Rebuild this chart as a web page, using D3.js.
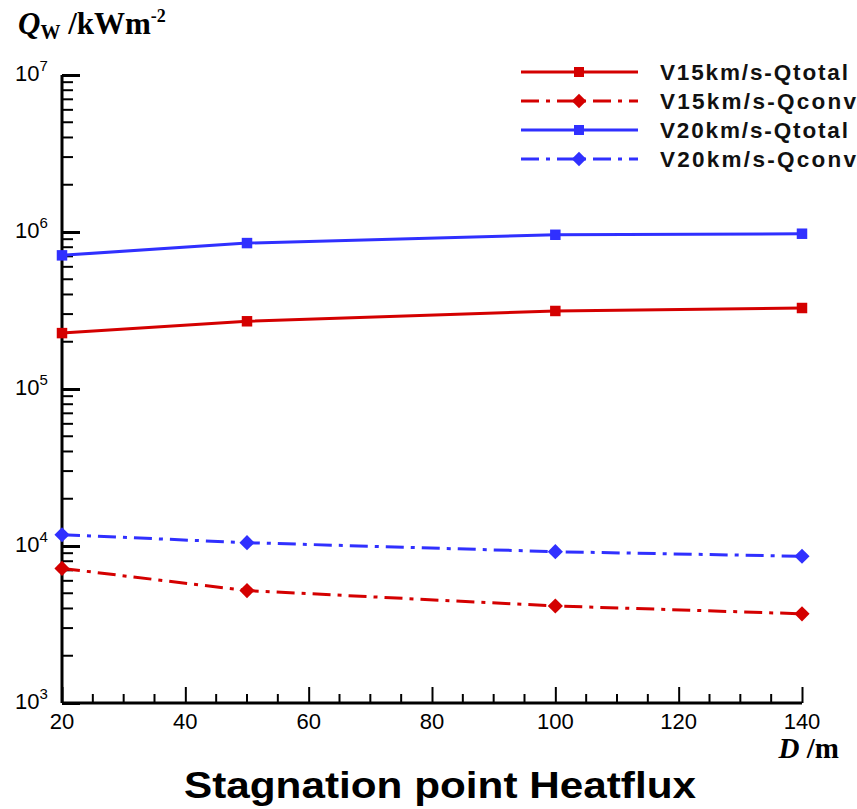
<!DOCTYPE html>
<html>
<head>
<meta charset="utf-8">
<script src="https://cdn.jsdelivr.net/npm/d3@7"></script>
<style>
  body { margin: 0; background: #fff; }
</style>
</head>
<body>
<div id="chart"></div>
<script>
// chart data
var distances = [20, 50, 100, 140];
var v15Total = [2.27e5, 2.7e5, 3.14e5, 3.28e5];
var v15Conv = [7.2e3, 5.2e3, 4.15e3, 3.7e3];
var v20Total = [7.1e5, 8.5e5, 9.6e5, 9.75e5];
var v20Conv = [1.18e4, 1.05e4, 9.2e3, 8.6e3];
var seriesNames = ["V15km/s-Qtotal", "V15km/s-Qconv", "V20km/s-Qtotal", "V20km/s-Qconv"];
var xTicks = [20, 40, 60, 80, 100, 120, 140];
var yExponents = [3, 4, 5, 6, 7];

var sans = "'Liberation Sans', Arial, sans-serif";
var serif = "'Liberation Serif', 'Times New Roman', serif";

var svgWidth = 857, svgHeight = 809;
var margin = { top: 75, left: 62, right: 55, bottom: 106 };
var width = svgWidth - margin.left - margin.right;
var height = svgHeight - margin.top - margin.bottom;

var red = "#d40000", blue = "#3030ff";
var dashDot = "18,7,4,7";
var series = [
  { name: seriesNames[0], values: v15Total, color: red, dash: null, marker: "square" },
  { name: seriesNames[1], values: v15Conv, color: red, dash: dashDot, marker: "diamond" },
  { name: seriesNames[2], values: v20Total, color: blue, dash: null, marker: "square" },
  { name: seriesNames[3], values: v20Conv, color: blue, dash: dashDot, marker: "diamond" }
];

var svg = d3.select("#chart").append("svg")
  .attr("width", svgWidth)
  .attr("height", svgHeight);

var chartGroup = svg.append("g")
  .attr("transform", `translate(${margin.left}, ${margin.top})`);

var xScale = d3.scaleLinear().domain([20, 140]).range([0, width]);
var yScale = d3.scaleLog().domain([1e3, 1e7]).range([height, 0]);

// minor ticks
var xMinor = d3.range(20, 141, 5).filter(d => d % 20 !== 0);
var yMinor = [];
yExponents.slice(0, -1).forEach(function (e) {
  for (var k = 2; k <= 9; k++) yMinor.push(k * Math.pow(10, e));
});

// x axis (ticks pointing inward)
var xAxis = chartGroup.append("g")
  .attr("transform", `translate(0, ${height})`)
  .call(d3.axisBottom(xScale).tickValues(xTicks).tickSize(-16).tickFormat(""));
xAxis.selectAll("line.minor").data(xMinor).enter().append("line")
  .attr("class", "minor")
  .attr("x1", d => xScale(d)).attr("x2", d => xScale(d))
  .attr("y1", 0).attr("y2", -9);
xAxis.select(".domain").attr("stroke-width", 3).attr("d", `M0,0H${width}`);
xAxis.selectAll("line").attr("stroke", "#000").attr("stroke-width", 2);

xAxis.selectAll("text.lbl").data(xTicks).enter().append("text")
  .attr("class", "lbl")
  .attr("x", d => xScale(d))
  .attr("y", 26)
  .attr("text-anchor", "middle")
  .style("font-family", sans)
  .style("font-size", "22px")
  .attr("fill", "#000")
  .text(d => d);

// y axis (ticks pointing inward)
var yAxis = chartGroup.append("g")
  .call(d3.axisLeft(yScale).tickValues(yExponents.map(e => Math.pow(10, e))).tickSize(-18).tickFormat(""));
yAxis.selectAll("line.minor").data(yMinor).enter().append("line")
  .attr("class", "minor")
  .attr("x1", 0).attr("x2", 11)
  .attr("y1", d => yScale(d)).attr("y2", d => yScale(d));
yAxis.select(".domain").attr("stroke-width", 3).attr("d", `M0,0V${height}`);
yAxis.selectAll("line").attr("stroke", "#000").attr("stroke-width", 2);
yAxis.selectAll(".tick line").attr("stroke-width", 3);

// y tick labels 10^n
yExponents.forEach(function (e) {
  var t = chartGroup.append("text")
    .attr("x", -47)
    .attr("y", yScale(Math.pow(10, e)) + 6)
    .style("font-family", sans)
    .style("font-size", "22px")
    .attr("fill", "#000");
  t.append("tspan").text("10");
  t.append("tspan").attr("dy", -10).style("font-size", "15px").text(e);
});

// markers: squares and 45-degree diamonds
function marker(kind, size) {
  return d3.symbol().type(d3.symbolSquare).size(size)();
}
function markerRotate(kind) {
  return kind === "diamond" ? " rotate(45)" : "";
}

// lines and markers
var line = d3.line()
  .x((d, i) => xScale(distances[i]))
  .y(d => yScale(d));

series.forEach(function (s) {
  chartGroup.append("path")
    .datum(s.values)
    .attr("d", line)
    .attr("fill", "none")
    .attr("stroke", s.color)
    .attr("stroke-width", 3)
    .attr("stroke-dasharray", s.dash);

  var size = s.marker === "square" ? 110 : 115;
  chartGroup.selectAll(null)
    .data(s.values)
    .enter()
    .append("path")
    .attr("d", marker(s.marker, size))
    .attr("transform", (d, i) => `translate(${xScale(distances[i])}, ${yScale(d)})${markerRotate(s.marker)}`)
    .attr("fill", s.color);
});

// legend
var legend = svg.append("g");
series.forEach(function (s, i) {
  var ly = 72 + i * 29;
  legend.append("line")
    .attr("x1", 521).attr("x2", 638)
    .attr("y1", ly).attr("y2", ly)
    .attr("stroke", s.color)
    .attr("stroke-width", 3)
    .attr("stroke-dasharray", s.dash);
  legend.append("path")
    .attr("d", marker(s.marker, s.marker === "square" ? 100 : 105))
    .attr("transform", `translate(579, ${ly})${markerRotate(s.marker)}`)
    .attr("fill", s.color);
  legend.append("text")
    .attr("x", 660).attr("y", ly + 8)
    .style("font-family", sans)
    .style("font-size", "22.5px")
    .style("font-weight", "bold")
    .attr("fill", "#111")
    .attr("textLength", i % 2 === 0 ? 188 : 196)
    .attr("lengthAdjust", "spacing")
    .text(s.name);
});

// axis titles
var yTitle = svg.append("text")
  .attr("x", 18).attr("y", 34)
  .style("font-family", serif)
  .style("font-weight", "bold")
  .style("font-size", "31px")
  .attr("fill", "#000");
yTitle.append("tspan").style("font-style", "italic").text("Q");
yTitle.append("tspan").style("font-size", "20px").attr("dy", 5).text("W");
yTitle.append("tspan").attr("dy", -5).text(" /kWm");
yTitle.append("tspan").style("font-size", "18px").attr("dy", -12).text("-2");

var xTitle = svg.append("text")
  .attr("x", 839).attr("y", 758)
  .attr("text-anchor", "end")
  .style("font-family", serif)
  .style("font-weight", "bold")
  .style("font-size", "29px")
  .attr("fill", "#000");
xTitle.append("tspan").style("font-style", "italic").text("D");
xTitle.append("tspan").text(" /m");

svg.append("text")
  .attr("x", 440).attr("y", 798)
  .attr("text-anchor", "middle")
  .style("font-family", sans)
  .style("font-size", "36px")
  .style("font-weight", "bold")
  .attr("fill", "#000")
  .attr("textLength", 512)
  .attr("lengthAdjust", "spacingAndGlyphs")
  .text("Stagnation point Heatflux");
</script>
</body>
</html>
